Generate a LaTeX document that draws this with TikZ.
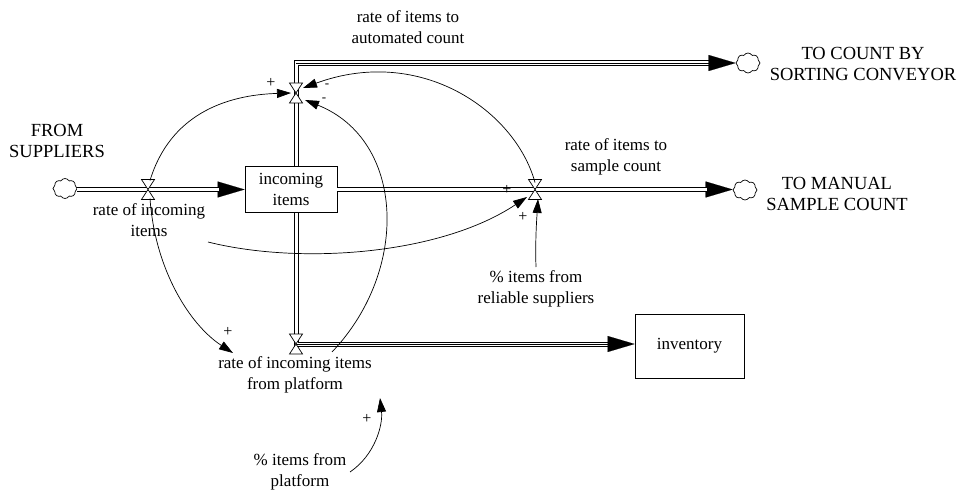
\documentclass[tikz,border=0pt]{standalone}
\usepackage{fontspec}
\setmainfont{Liberation Serif}
\usetikzlibrary{arrows.meta,shapes.symbols}
\begin{document}
\begin{tikzpicture}[x=1pt,y=-1pt,
  lbl/.style={align=center,font=\fontsize{17}{21}\selectfont,inner sep=0pt},
  capslbl/.style={align=center,font=\fontsize{18.5}{21.5}\selectfont,inner sep=0pt},
  stockbox/.style={draw,line width=0.8pt,fill=white,align=center,font=\fontsize{17}{21}\selectfont,inner sep=0pt},
  cloudnode/.style={cloud,draw,line width=0.7pt,fill=white,cloud puffs=8,cloud puff arc=120,aspect=1.15,minimum width=24pt,minimum height=20pt,inner sep=0pt},
  pipe/.style={preaction={draw=black,line width=5pt},draw=white,line width=3.2pt},
  pipeline/.style={draw=black,line width=0.9pt,line join=miter},
  pipetip/.style={line width=0.1pt,-{Triangle[length=27pt,width=16pt]}},
  infl/.style={draw,line width=0.7pt,-{Triangle[length=14pt,width=9pt]}},
  sgn/.style={font=\fontsize{16}{16}\selectfont,inner sep=0pt},
  msgn/.style={font=\fontsize{13}{13}\selectfont,inner sep=0pt},
  valve/.pic={\draw[line width=0.7pt,fill=white] (-6.5,-10) -- (6.5,-10) -- (0,0) -- cycle (-6.5,10) -- (6.5,10) -- (0,0) -- cycle;}
]
\useasboundingbox (0,0) rectangle (966,500);

% clouds and stocks
\node[cloudnode] (c1) at (65,188.5) {};
\node[cloudnode] (c2) at (748,63) {};
\node[cloudnode] (c3) at (745,190) {};
\node[stockbox,minimum width=92pt,minimum height=46pt] (inc) at (291,189.5) {incoming\\items};
\node[stockbox,minimum width=109pt,minimum height=64pt] (inv) at (689.5,346) {inventory};

% valve positions and pipe corners
\coordinate (v1) at (148,189.5);
\coordinate (v2) at (296,93);
\coordinate (v3) at (535,189.5);
\coordinate (v4) at (296,344);
\coordinate (k2) at (v2 |- c2.west);
\coordinate (p2a) at (v2 |- inc.north);
\coordinate (p4a) at (v4 |- inc.south);
\coordinate (p4b) at (v4 -| inv.west);

% pipes: arrow heads
\draw[pipetip] (v1) -- (inc.west);
\draw[pipetip] (k2) -- (c2.west);
\draw[pipetip] (v3) -- (v3 -| c3.west);
\draw[pipetip] (v4) -- (p4b);
% pipes: bodies
\draw[pipe] (c1.east |- v1) -- ([xshift=-26pt]inc.west);
\draw[pipe] (inc.east) -- ([xshift=-26pt]v3 -| c3.west);
\draw[pipeline] ([xshift=-2.05pt]p2a) -- ([xshift=-2.05pt,yshift=2.05pt]k2) -- ([xshift=-26pt,yshift=2.05pt]c2.west);
\draw[pipeline] ([xshift=2.05pt]p2a) -- ([xshift=2.05pt,yshift=-2.05pt]k2) -- ([xshift=-26pt,yshift=-2.05pt]c2.west);
\draw[pipeline] ([xshift=-2.05pt]p4a) -- ([xshift=-2.05pt,yshift=-2.05pt]v4) -- ([xshift=-26pt,yshift=-2.05pt]p4b);
\draw[pipeline] ([xshift=2.05pt]p4a) -- ([xshift=2.05pt,yshift=2.05pt]v4) -- ([xshift=-26pt,yshift=2.05pt]p4b);

% valves
\pic at (v1) {valve};
\pic at (v2) {valve};
\pic at (v3) {valve};
\pic at (v4) {valve};

% labels
\node[capslbl] (lfrom) at (57,141) {FROM\\SUPPLIERS};
\node[lbl] (lrin) at (149,220) {rate of incoming\\items};
\node[lbl] (lauto) at (408,27) {rate of items to\\automated count};
\node[capslbl] (lconv) at (863,64) {TO COUNT BY\\SORTING CONVEYOR};
\node[lbl] (lsamp) at (616,157) {rate of items to\\sample count};
\node[capslbl] (lman) at (837,194) {TO MANUAL\\SAMPLE COUNT};
\node[lbl] (lrel) at (536,289) {\% items from\\reliable suppliers};
\node[lbl] (lplat) at (295,375) {rate of incoming items\\from platform};
\node[lbl] (lpf) at (300,472) {\% items from\\platform};

% influence arrows
\draw[infl] ([xshift=2pt,yshift=9pt]v1) .. controls (170,115) and (225,95) .. ([xshift=-5pt]v2);
\draw[infl] ([yshift=7pt]v3) .. controls (515,110) and (420,45) .. ([xshift=7pt,yshift=5pt]v2);
\draw[infl] ([xshift=37pt,yshift=23pt]lplat.center) .. controls (410,270) and (405,140) .. ([xshift=9pt,yshift=-7pt]v2);
\draw[infl] ([xshift=2pt,yshift=-9pt]v1) .. controls (155,270) and (190,325) .. ([xshift=-62pt,yshift=22pt]lplat.center);
\draw[infl] ([xshift=59pt,yshift=-22pt]lrin.center) .. controls (300,265) and (440,255) .. ([xshift=-8pt,yshift=-7.5pt]v3);
\draw[infl] ([yshift=22pt]lrel.center) .. controls (535,240) and (537,215) .. ([xshift=3pt,yshift=-9.5pt]v3);
\draw[infl] ([xshift=50pt]lpf.center) .. controls (375,455) and (383,425) .. ([xshift=85pt,yshift=-23pt]lplat.center);

% polarity signs
\node[sgn] (s1) at (271,83) {+};
\node[sgn] (s2) at (507,190) {+};
\node[sgn] (s3) at (523,217) {+};
\node[sgn] (s4) at (228,332) {+};
\node[sgn] (s5) at (367,419) {+};
\node[msgn] (s6) at (327,86) {-};
\node[msgn] (s7) at (324,100) {-};
\end{tikzpicture}
\end{document}
